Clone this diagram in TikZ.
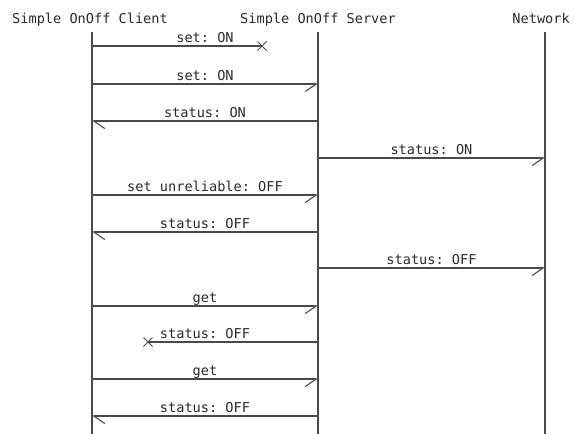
\documentclass[tikz,border=0pt]{standalone}
\usepackage{fontspec}
\setmonofont{DejaVu Sans Mono}
\usetikzlibrary{arrows.meta,shapes.misc}
\definecolor{ln}{HTML}{4A4A4A}
\definecolor{tx}{HTML}{2A2A2A}
\begin{document}
\begin{tikzpicture}[x=1pt,y=-1pt,
  lbl/.style={font=\ttfamily\fontsize{13.6}{15}\selectfont, text=tx, anchor=base, inner sep=0pt},
  life/.style={draw=ln, line width=1.2pt},
  msg/.style={draw=ln, line width=1.2pt},
  msgR/.style={msg, -{Straight Barb[right,length=11pt,width=15pt,line width=1.1pt]}},
  msgL/.style={msg, -{Straight Barb[left,length=11pt,width=15pt,line width=1.1pt]}},
  xmark/.style={cross out, draw=ln, line width=1pt, minimum size=8pt, inner sep=0pt}]
\useasboundingbox (0,0) rectangle (574,434);
% headers
\node[lbl] (hc) at (90,23) {Simple OnOff Client};
\node[lbl] (hs) at (318,23) {Simple OnOff Server};
\node[lbl, anchor=base east] (hn) at (570,23) {Network};
% lifelines
\coordinate (ct) at (92,32);  \coordinate (cb) at (92,434);
\coordinate (st) at (318,32); \coordinate (sb) at (318,434);
\coordinate (nt) at (545,32); \coordinate (nb) at (545,434);
\draw[life] (ct) -- (cb);
\draw[life] (st) -- (sb);
\draw[life] (nt) -- (nb);
% 1
\coordinate (m1a) at (92,46); \node[xmark] (m1x) at (262,46) {};
\draw[msg] (m1a) -- (m1x.center);
\node[lbl] (l1) at (205,42) {set: ON};
% 2
\coordinate (m2a) at (92,84); \coordinate (m2b) at (318,84);
\draw[msgR] (m2a) -- (m2b);
\node[lbl] (l2) at (205,80) {set: ON};
% 3
\coordinate (m3a) at (318,121); \coordinate (m3b) at (92,121);
\draw[msgL] (m3a) -- (m3b);
\node[lbl] (l3) at (205,117) {status: ON};
% 4
\coordinate (m4a) at (318,158); \coordinate (m4b) at (545,158);
\draw[msgR] (m4a) -- (m4b);
\node[lbl] (l4) at (431.5,154) {status: ON};
% 5
\coordinate (m5a) at (92,195); \coordinate (m5b) at (318,195);
\draw[msgR] (m5a) -- (m5b);
\node[lbl] (l5) at (205,191) {set unreliable: OFF};
% 6
\coordinate (m6a) at (318,232); \coordinate (m6b) at (92,232);
\draw[msgL] (m6a) -- (m6b);
\node[lbl] (l6) at (205,228) {status: OFF};
% 7
\coordinate (m7a) at (318,268); \coordinate (m7b) at (545,268);
\draw[msgR] (m7a) -- (m7b);
\node[lbl] (l7) at (431.5,264) {status: OFF};
% 8
\coordinate (m8a) at (92,306); \coordinate (m8b) at (318,306);
\draw[msgR] (m8a) -- (m8b);
\node[lbl] (l8) at (205,302) {get};
% 9
\coordinate (m9a) at (318,342); \node[xmark] (m9x) at (148,342) {};
\draw[msg] (m9a) -- (m9x.center);
\node[lbl] (l9) at (205,338) {status: OFF};
% 10
\coordinate (m10a) at (92,379); \coordinate (m10b) at (318,379);
\draw[msgR] (m10a) -- (m10b);
\node[lbl] (l10) at (205,375) {get};
% 11
\coordinate (m11a) at (318,416); \coordinate (m11b) at (92,416);
\draw[msgL] (m11a) -- (m11b);
\node[lbl] (l11) at (205,412) {status: OFF};
\end{tikzpicture}
\end{document}
